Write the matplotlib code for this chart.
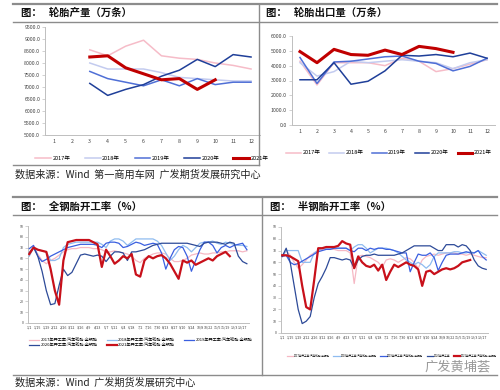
import matplotlib
matplotlib.use("Agg")
import matplotlib.pyplot as plt
from matplotlib.lines import Line2D

plt.rcParams['font.family'] = ['Noto Sans CJK SC', 'DejaVu Sans']

# ---------------- data ----------------
years = ['2017年', '2018年', '2019年', '2020年', '2021年']
months = list(range(1, 13))

# tire output (10k units), Mar-Dec (2021 to Oct)
output_2017 = [8550, 8300, 8700, 8950, 8300, 8200, 8150, 8000, 7900, 7750]
output_2018 = [8000, 7750, 7750, 7750, 7600, 7400, 7350, 7300, 7250, 7250]
output_2019 = [7650, 7350, 7200, 7050, 7300, 7050, 7350, 7100, 7200, 7200]
output_2020 = [7150, 6650, 6900, 7100, 7450, 7700, 8150, 7850, 8350, 8250]
output_2021 = [8250, 8300, 7800, 7550, 7300, 7350, 6900, 7300]

# tire exports (10k units), Jan-Dec
export_2017 = [4300, 2700, 4200, 4200, 4200, 4000, 4500, 4300, 3600, 3800, 4100, 4400]
export_2018 = [4200, 3300, 3600, 4300, 4200, 4300, 4400, 4300, 4200, 3800, 4200, 4400]
export_2019 = [4550, 2800, 4250, 4300, 4450, 4600, 4650, 4300, 4150, 3650, 3950, 4500]
export_2020 = [3050, 3050, 4200, 2750, 2950, 3650, 4700, 4650, 4750, 4600, 4850, 4500]
export_2021 = [4950, 4200, 5100, 4750, 4700, 5050, 4750, 5300, 5150, 4900]

# weekly operating rate (%), all-steel tires
allsteel_2017 = [66, 70, 64, 58, 55, 58, 60, 63, 66, 68, 69, 69, 70, 70, 70, 69, 69, 68, 66, 66,
                 67, 66, 65, 64, 62, 58, 56, 60, 62, 64, 65, 65, 64, 60, 57, 57, 58, 60, 63, 64,
                 65, 64, 64, 65, 65, 66, 66, 67, 67, 67, 66, 67]
allsteel_2018 = [62, 70, 68, 67, 66, 58, 58, 60, 70, 73, 74, 75, 75, 75, 75, 75, 75, 73, 70, 76,
                 78, 78, 76, 72, 75, 78, 78, 78, 78, 78, 76, 72, 65, 58, 62, 68, 72, 70, 66, 70,
                 74, 75, 75, 76, 74, 73, 75, 74, 73, 72, 72, 71]
allsteel_2019 = [69, 72, 62, 57, 59, 62, 64, 66, 68, 70, 71, 72, 73, 73, 73, 73, 72, 70, 74, 75,
                 75, 74, 70, 71, 73, 75, 74, 72, 73, 74, 73, 65, 50, 60, 68, 71, 70, 62, 48, 58,
                 68, 75, 75, 72, 65, 70, 72, 70, 72, 73, 74, 68]
allsteel_2020 = [65, 70, 62, 48, 30, 17, 18, 35, 50, 44, 47, 55, 63, 64, 63, 62, 63, 62, 57, 62,
                 66, 66, 65, 58, 66, 66, 67, 68, 70, 72, 73, 74, 74, 74, 74, 74, 74, 74, 73, 72,
                 71, 74, 75, 75, 75, 74, 73, 75, 74, 62, 57, 55]
allsteel_2021 = [64, 70, 68, 67, 66, 50, 30, 17, 58, 75, 76, 77, 77, 77, 77, 75, 73, 52, 68, 62,
                 55, 58, 62, 60, 64, 45, 43, 58, 62, 60, 62, 63, 60, 55, 48, 41, 58, 56, 58, 54,
                 56, 58, 60, 58, 62, 64, 66, 62]

# weekly operating rate (%), semi-steel tires
semisteel_2017 = [65, 70, 66, 60, 55, 58, 62, 66, 68, 70, 71, 71, 71, 71, 70, 70, 70, 68, 42, 65,
                  66, 65, 64, 62, 60, 56, 62, 63, 62, 60, 62, 64, 63, 60, 55, 62, 65, 66, 67, 66,
                  67, 68, 68, 68, 67, 67, 66, 67, 66, 65, 64, 64]
semisteel_2018 = [65, 70, 70, 70, 70, 60, 60, 60, 68, 70, 72, 72, 72, 72, 72, 72, 72, 70, 73, 75,
                  75, 72, 68, 70, 72, 72, 72, 71, 70, 68, 65, 62, 60, 58, 60, 58, 55, 58, 65, 68,
                  68, 68, 68, 69, 69, 68, 68, 69, 68, 70, 68, 66]
semisteel_2019 = [65, 66, 60, 58, 59, 61, 63, 65, 67, 69, 70, 71, 71, 72, 72, 72, 72, 70, 69, 72,
                  72, 70, 72, 71, 72, 72, 71, 71, 70, 69, 68, 68, 52, 60, 67, 66, 66, 68, 64, 53,
                  60, 66, 67, 67, 67, 68, 69, 68, 68, 70, 65, 62]
semisteel_2020 = [65, 72, 60, 40, 20, 8, 10, 14, 30, 42, 48, 55, 64, 64, 63, 62, 63, 62, 55, 62,
                  65, 66, 66, 67, 66, 66, 66, 66, 66, 67, 68, 70, 72, 74, 74, 74, 74, 74, 72, 70,
                  70, 75, 75, 75, 73, 75, 74, 70, 62, 57, 55, 54]
semisteel_2021 = [66, 66, 65, 63, 61, 40, 22, 20, 45, 72, 72, 73, 73, 73, 74, 78, 76, 75, 55, 65,
                  60, 57, 56, 58, 53, 58, 45, 52, 58, 56, 58, 60, 58, 57, 54, 40, 52, 53, 50, 52,
                  54, 55, 54, 55, 57, 60, 61, 62]

week_ticks = ['1/1', '1/15', '1/29', '2/12', '2/26', '3/12', '3/26', '4/9', '4/23', '5/7',
              '5/21', '6/4', '6/18', '7/2', '7/16', '7/30', '8/13', '8/27', '9/10', '9/24',
              '10/8', '10/22', '11/5', '11/19', '12/3', '12/17']

allsteel_labels = [y + '开工率:汽车轮胎:全钢胎' for y in years]
semisteel_labels = [y + '开工率:汽车轮胎:半钢胎' for y in years]
semisteel_labels[3] = '2020年开工率'

colors_top = ['#f6bcc8', '#c3cbef', '#4f6fd6', '#1f3f99', '#c00000']
colors_bot = ['#f6b8c4', '#8fbcf0', '#3a5fe0', '#2d4a98', '#c8101a']

W, H = 500, 390


def fx(x):
    return x / W


def fy(y):
    return 1 - y / H


def add_axes(x0, x1, y0, y1):
    ax = fig.add_axes([fx(x0), fy(y1), (x1 - x0) / W, (y1 - y0) / H])
    ax.patch.set_alpha(0)
    for s in ['top', 'right']:
        ax.spines[s].set_visible(False)
    for s in ['left', 'bottom']:
        ax.spines[s].set_color('#bfbfbf')
        ax.spines[s].set_linewidth(0.7)
    ax.tick_params(colors='#bfbfbf', labelcolor='#404040', length=2, width=0.5, pad=1.5)
    return ax


def hline(y, x0, x1, lw=1.3, color='#8c8c8c'):
    fig.add_artist(Line2D([fx(x0), fx(x1)], [fy(y), fy(y)], color=color, lw=lw))


def vline(x, y0, y1, lw=1.0, color='#8c8c8c'):
    fig.add_artist(Line2D([fx(x), fx(x)], [fy(y0), fy(y1)], color=color, lw=lw))


fig = plt.figure(figsize=(5, 3.9), dpi=100)

# ---------------- frame rules and titles ----------------
hline(4, 13, 497, lw=1.6)
hline(22, 13, 497, lw=1.0)
vline(259, 4, 165)
hline(165, 13, 259, lw=1.0)
hline(197, 13, 497, lw=1.6)
hline(215, 13, 497, lw=1.0)
vline(262, 197, 375)
hline(375, 13, 497, lw=1.0)

title_kw = dict(fontsize=7.5, fontweight='bold', va='center', color='#111111')
fig.text(fx(21), fy(13), '图：   轮胎产量（万条）', **title_kw)
fig.text(fx(266), fy(13), '图：   轮胎出口量（万条）', **title_kw)
fig.text(fx(21), fy(207), '图：   全钢胎开工率（%）', **title_kw)
fig.text(fx(270), fy(207), '图：   半钢胎开工率（%）', **title_kw)

src_kw = dict(fontsize=7.3, va='center', color='#222222')
fig.text(fx(15), fy(175), '数据来源：Wind  第一商用车网  广发期货发展研究中心', **src_kw)
fig.text(fx(15), fy(383), '数据来源：Wind  广发期货发展研究中心', **src_kw)
fig.text(fx(424), fy(367), '广发黄埔荟', fontsize=9.5, va='center', color='#9a9a9a')

# ---------------- top-left: output ----------------
ax1 = add_axes(45, 260, 27, 135)
out_series = [output_2017, output_2018, output_2019, output_2020, output_2021]
handles = []
for i, s in enumerate(out_series):
    lw = 2.2 if i == 4 else 1.1
    h, = ax1.plot(months[2:2 + len(s)], s, color=colors_top[i], lw=lw, zorder=2 + i)
    handles.append(h)
ax1.set_xlim(0.5, 12.5)
ax1.set_ylim(5000, 9500)
ax1.set_xticks(months)
ax1.set_yticks(range(5000, 9501, 500))
ax1.set_yticklabels([f'{v:.1f}' for v in range(5000, 9501, 500)])
ax1.tick_params(labelsize=3.8)
ax1.tick_params(axis='x', length=0, pad=3)
fig.legend(handles, years, loc='center', bbox_to_anchor=(fx(152), fy(158)), ncol=5,
           fontsize=4.0, frameon=False, handlelength=2.8, handletextpad=0.3,
           columnspacing=2.6)

# ---------------- top-right: exports ----------------
ax2 = add_axes(291.5, 495.5, 36, 125)
exp_series = [export_2017, export_2018, export_2019, export_2020, export_2021]
handles = []
for i, s in enumerate(exp_series):
    lw = 2.2 if i == 4 else 1.1
    h, = ax2.plot(months[:len(s)], s, color=colors_top[i], lw=lw, zorder=2 + i)
    handles.append(h)
ax2.set_xlim(0.5, 12.5)
ax2.set_ylim(0, 6000)
ax2.set_xticks(months)
ax2.set_yticks(range(0, 6001, 1000))
ax2.set_yticklabels([f'{v:.1f}' for v in range(0, 6001, 1000)])
ax2.tick_params(labelsize=3.8)
ax2.tick_params(axis='x', length=0, pad=3)
fig.legend(handles, years, loc='center', bbox_to_anchor=(fx(389), fy(153)), ncol=5,
           fontsize=4.0, frameon=False, handlelength=2.6, handletextpad=0.3,
           columnspacing=1.6)


def weekly_axes(ax, series):
    handles = []
    for i, s in enumerate(series):
        lw = 1.6 if i == 4 else 0.9
        h, = ax.plot(range(len(s)), s, color=colors_bot[i], lw=lw, zorder=2 + i)
        handles.append(h)
    ax.set_xlim(-0.25, 51.5)
    ax.set_ylim(0, 90)
    ax.set_yticks(range(0, 91, 10))
    ax.set_xticks(range(0, 52, 2))
    ax.set_xticklabels(week_ticks)
    ax.tick_params(labelsize=2.6)
    ax.tick_params(axis='x', length=0, pad=2)
    return handles


# ---------------- bottom-left: all-steel ----------------
ax3 = add_axes(28.2, 249, 226, 323)
all_series = [allsteel_2017, allsteel_2018, allsteel_2019, allsteel_2020, allsteel_2021]
hs = weekly_axes(ax3, all_series)
order = [0, 3, 1, 4, 2]
fig.legend([hs[k] for k in order], [allsteel_labels[k] for k in order], loc='center',
           bbox_to_anchor=(fx(141), fy(343)), ncol=3, fontsize=3.0, frameon=False,
           handlelength=2.4, handletextpad=0.3, columnspacing=2.2, labelspacing=0.25)

# ---------------- bottom-right: semi-steel ----------------
ax4 = add_axes(281.2, 488.2, 227, 333)
semi_series = [semisteel_2017, semisteel_2018, semisteel_2019, semisteel_2020, semisteel_2021]
hs = weekly_axes(ax4, semi_series)
fig.legend(hs, semisteel_labels, loc='center', bbox_to_anchor=(fx(392), fy(356)), ncol=5,
           fontsize=1.9, frameon=False, handlelength=2.5, handletextpad=0.3,
           columnspacing=1.2)

fig.savefig('out.png', dpi=100)
